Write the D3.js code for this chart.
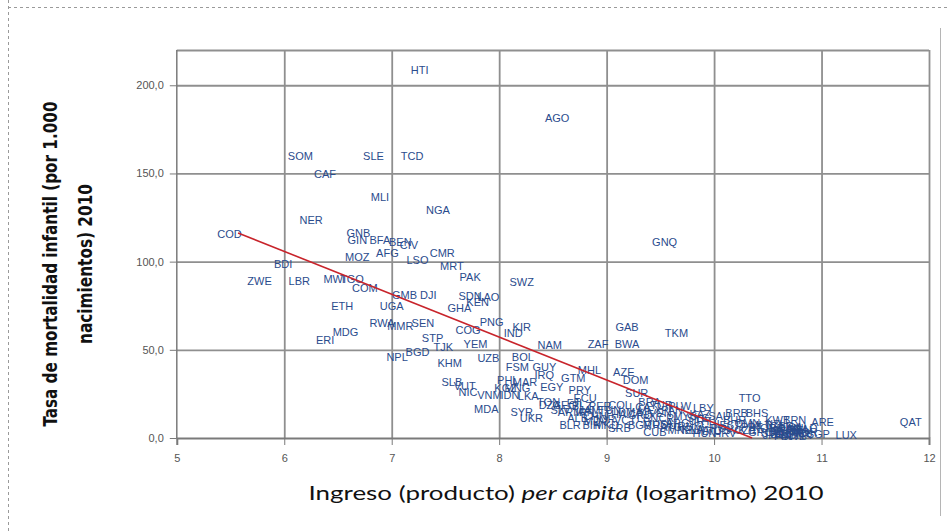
<!DOCTYPE html>
<html>
<head>
<meta charset="UTF-8">
<script src="https://d3js.org/d3.v7.min.js"></script>
<style>
  body { margin: 0; background: #fff; }
  svg { display: block; }
  .axis path, .axis line { stroke: #7a7a7a; }
  .axis text { fill: #555; font-family: "Liberation Sans", Arial, sans-serif; font-size: 11px; }
  .grid line { stroke: #8f8f8f; stroke-width: 1.8; }
  .grid path { display: none; }
  .lbl { fill: #2a4b8d; font-family: "Liberation Sans", Arial, sans-serif; font-size: 11px; }
</style>
</head>
<body>
<svg id="chart" width="947" height="531"></svg>
<script>
// country codes, log income per capita 2010, infant mortality 2010
var codes = [
  "HTI","AGO","SOM","SLE","TCD","CAF","MLI","NGA","NER","COD",
  "GNB","GIN","BFA","BEN","CIV","GNQ","CMR","MOZ","AFG","LSO",
  "BDI","MRT","ZWE","LBR","MWI","TGO","COM","PAK","SWZ","GMB",
  "DJI","SDN","LAO","KEN","ETH","UGA","GHA","PNG","RWA","MMR",
  "SEN","KIR","IND","COG","MDG","ERI","STP","TJK","YEM","NAM",
  "ZAF","BWA","GAB","TKM","BGD","NPL","KHM","UZB","BOL","FSM",
  "GUY","MHL","IRQ","GTM","AZE","DOM","SLB","VUT","NIC","VNM",
  "PHL","MAR","KGZ","MNG","EGY","IDN","LKA","TON","MDA","SYR",
  "UKR","DZA","PRY","ECU","GEO","FJI","SLV","ARM","BLZ","JAM",
  "PER","TUN","COL","THA","CHN","ALB","JOR","SUR","DMA","LCA",
  "VCT","BLR","BIH","MKD","SRB","BRA","TUR","MEX","VEN","PAN",
  "PLW","LBY","CRI","MYS","URY","ARG","LBN","GRD","MUS","ROU",
  "BGR","CUB","MNE","RUS","KAZ","CHL","LVA","LTU","POL","HUN",
  "HRV","SVK","EST","SAU","BHR","OMN","CZE","PRT","MLT","GRC",
  "SVN","KOR","ISR","CYP","ESP","ITA","NZL","JPN","FRA","TTO",
  "BRB","BHS","KWT","BRN","ARE","QAT","LUX","NOR","SGP","GBR",
  "USA","DEU","AUS","NLD","AUT","BEL","DNK","SWE","FIN","IRL",
  "CAN","ATG","KNA","SYC","MDV","IRN"
];
var logIncome = [
  7.26, 8.54, 6.15, 6.83, 7.19, 6.38, 6.89, 7.43, 6.25, 5.49,
  6.69, 6.68, 6.89, 7.08, 7.16, 9.54, 7.47, 6.68, 6.96, 7.24,
  5.99, 7.56, 5.77, 6.14, 6.47, 6.63, 6.75, 7.73, 8.21, 7.12,
  7.34, 7.73, 7.90, 7.80, 6.54, 7.00, 7.63, 7.93, 6.91, 7.08,
  7.29, 8.21, 8.13, 7.71, 6.57, 6.38, 7.38, 7.48, 7.78, 8.47,
  8.92, 9.19, 9.19, 9.65, 7.24, 7.05, 7.54, 7.90, 8.22, 8.17,
  8.42, 8.84, 8.42, 8.69, 9.16, 9.27, 7.56, 7.68, 7.71, 7.91,
  8.08, 8.24, 8.06, 8.17, 8.49, 8.10, 8.27, 8.46, 7.88, 8.21,
  8.30, 8.47, 8.75, 8.80, 8.61, 8.70, 8.57, 8.66, 8.77, 8.84,
  8.94, 9.03, 9.12, 9.08, 8.89, 8.73, 8.98, 9.28, 9.22, 9.31,
  9.17, 8.66, 8.86, 9.00, 9.12, 9.40, 9.51, 9.40, 9.50, 9.61,
  9.68, 9.90, 9.57, 9.73, 9.87, 9.66, 9.38, 9.31, 9.45, 9.54,
  9.31, 9.45, 9.68, 9.77, 9.87, 9.98, 9.87, 9.98, 10.07, 9.91,
  10.10, 10.19, 10.15, 10.05, 10.19, 10.31, 10.29, 10.35, 10.43, 10.43,
  10.54, 10.47, 10.57, 10.63, 10.66, 10.75, 10.57, 10.55, 10.78, 10.33,
  10.21, 10.40, 10.59, 10.75, 11.01, 11.83, 11.23, 10.85, 10.97, 10.63,
  10.72, 10.80, 10.68, 10.86, 10.70, 10.62, 10.80, 10.74, 10.64, 10.83,
  10.70, 9.60, 9.80, 9.85, 8.90, 8.80
];
var mortality = [
  208.7, 181.4, 159.9, 159.9, 159.9, 149.7, 136.7, 129.3, 123.6, 115.7,
  116.2, 112.3, 112.3, 111.1, 109.4, 111.1, 104.9, 102.6, 104.9, 100.9,
  98.7, 97.5, 89.0, 89.0, 90.2, 90.2, 85.1, 91.3, 88.5, 81.1,
  81.1, 80.5, 79.9, 77.1, 74.8, 74.8, 73.7, 65.8, 65.2, 63.5,
  65.2, 62.9, 59.5, 61.2, 60.1, 55.6, 56.7, 51.6, 53.3, 52.7,
  53.3, 53.3, 62.9, 59.5, 48.8, 45.9, 42.5, 45.4, 45.9, 40.3,
  40.3, 38.6, 35.7, 34.0, 37.4, 32.9, 31.8, 29.5, 26.1, 24.4,
  32.9, 31.8, 28.4, 28.4, 28.9, 24.4, 24.0, 20.4, 16.4, 14.7,
  11.3, 18.7, 27.2, 22.7, 18.7, 19.8, 15.9, 14.7, 18.1, 15.9,
  18.1, 15.9, 18.7, 13.6, 12.5, 11.3, 10.8, 25.5, 14.7, 17.6,
  10.2, 7.4, 7.4, 7.4, 5.7, 20.4, 18.7, 15.9, 14.2, 15.9,
  18.1, 17.0, 11.3, 12.5, 9.6, 8.5, 11.3, 13.0, 7.9, 7.4,
  7.4, 3.4, 4.5, 6.8, 13.6, 7.9, 4.5, 4.0, 5.7, 2.8,
  2.8, 4.5, 7.4, 12.5, 10.2, 8.5, 4.5, 6.2, 7.4, 3.4,
  2.8, 5.7, 5.7, 4.0, 2.3, 3.4, 7.9, 1.5, 5.1, 22.7,
  14.2, 14.2, 10.2, 10.2, 9.1, 9.1, 1.7, 3.4, 2.3, 7.0,
  6.5, 4.5, 4.8, 5.5, 2.6, 2.2, 1.8, 1.2, 1.0, 2.6,
  5.9, 6.0, 5.0, 11.5, 9.5, 14.5
];

var xTicks = [5, 6, 7, 8, 9, 10, 11, 12];
var yTicks = [0, 50, 100, 150, 200];

// linear trend line (Excel style), y = a + b*x, starts at smallest x
var trendStart = 5.57;
var trendA = 251.6;
var trendB = -24.3;

var svg = d3.select('#chart');
var plotL = 176.8, plotR = 929, plotT = 50, plotB = 438;

var x = d3.scaleLinear().domain([5, 12]).range([plotL, plotR]);
var y = d3.scaleLinear().domain([0, 220]).range([plotB, plotT]);

// page frame
svg.append('line').attr('x1', 8.5).attr('x2', 8.5).attr('y1', 0).attr('y2', 531)
  .attr('stroke', '#9a9a9a').attr('stroke-dasharray', '3,3');
svg.append('line').attr('x1', 8).attr('x2', 947).attr('y1', 7.5).attr('y2', 7.5)
  .attr('stroke', '#9a9a9a').attr('stroke-dasharray', '3,3');
svg.append('line').attr('x1', 940.5).attr('x2', 940.5).attr('y1', 28).attr('y2', 516)
  .attr('stroke', '#b5b5b5');

// grid
svg.append('g').attr('class', 'grid')
  .attr('transform', 'translate(0,' + plotB + ')')
  .call(d3.axisBottom(x).tickValues(xTicks.slice(1)).tickSize(-(plotB - plotT)).tickFormat(''));
svg.append('g').attr('class', 'grid')
  .attr('transform', 'translate(' + plotL + ',0)')
  .call(d3.axisLeft(y).tickValues(yTicks.slice(1).concat([220])).tickSize(-(plotR - plotL)).tickFormat(''));

// axes
var xAxis = svg.append('g').attr('class', 'axis')
  .attr('transform', 'translate(0,' + plotB + ')')
  .call(d3.axisBottom(x).tickValues(xTicks).tickSize(7).tickPadding(9).tickFormat(d3.format('d')));
xAxis.select('.domain').attr('stroke-width', 2);

var yAxis = svg.append('g').attr('class', 'axis')
  .attr('transform', 'translate(' + plotL + ',0)')
  .call(d3.axisLeft(y).tickValues(yTicks).tickSize(7).tickPadding(6)
    .tickFormat(function(d) { return d.toFixed(1).replace('.', ','); }));
yAxis.select('.domain').attr('d', 'M0,' + plotT + 'V' + plotB).attr('stroke-width', 1.5);

// country labels
var pts = codes.map(function(c, i) { return { code: c, x: logIncome[i], y: mortality[i] }; });
svg.append('g').selectAll('text')
  .data(pts)
  .join('text')
  .attr('class', 'lbl')
  .attr('x', function(d) { return x(d.x); })
  .attr('y', function(d) { return y(d.y); })
  .attr('text-anchor', 'middle')
  .attr('dominant-baseline', 'central')
  .text(function(d) { return d.code; });

// trend line, cut where it reaches zero
var trendEnd = -trendA / trendB;
svg.append('line')
  .attr('x1', x(trendStart)).attr('y1', y(trendA + trendB * trendStart))
  .attr('x2', x(trendEnd)).attr('y2', y(0))
  .attr('stroke', '#c8242b').attr('stroke-width', 1.6);

// titles
var xt = svg.append('text')
  .attr('x', 566).attr('y', 500)
  .attr('text-anchor', 'middle')
  .attr('textLength', 515).attr('lengthAdjust', 'spacingAndGlyphs')
  .style('font-family', 'Lato, "Open Sans", sans-serif')
  .style('font-size', '20px').style('fill', '#111');
xt.append('tspan').text('Ingreso (producto) ');
xt.append('tspan').style('font-style', 'italic').text('per capita');
xt.append('tspan').text(' (logaritmo) 2010');

var yt = svg.append('g').attr('transform', 'translate(0,264) rotate(-90)')
  .style('font-family', '"Liberation Sans Narrow", "DejaVu Sans Condensed", sans-serif')
  .style('font-weight', 'bold').style('font-size', '20px').style('fill', '#111');
yt.append('text').attr('x', 0).attr('y', 57).attr('text-anchor', 'middle')
  .attr('textLength', 325).attr('lengthAdjust', 'spacingAndGlyphs')
  .text('Tasa de mortalidad infantil (por 1.000');
yt.append('text').attr('x', 0).attr('y', 92).attr('text-anchor', 'middle')
  .attr('textLength', 160).attr('lengthAdjust', 'spacingAndGlyphs')
  .text('nacimientos) 2010');
</script>
</body>
</html>
